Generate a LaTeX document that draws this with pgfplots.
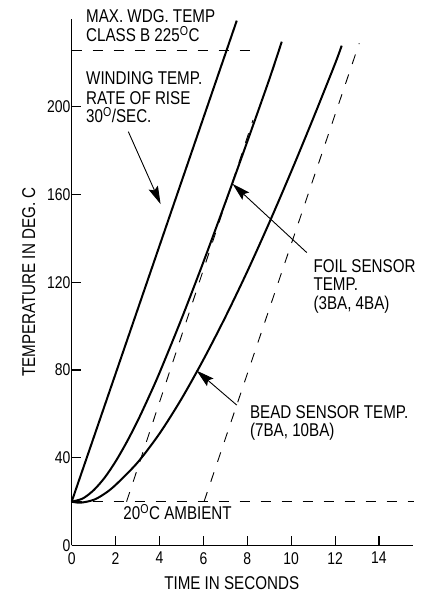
\documentclass[border=0pt]{standalone}
\usepackage{pgfplots}
\pgfplotsset{compat=1.18}
\usetikzlibrary{arrows.meta}
\usepackage{fontspec}
\setmainfont{Liberation Sans}[FakeStretch=0.82]

\newcommand{\dg}{\textsuperscript{O}}

\begin{document}
\begin{tikzpicture}
\useasboundingbox (0,0) rectangle (422pt,594pt);
\fontsize{18.5}{19}\selectfont
\begin{axis}[
  at={(71.7pt,48.5pt)}, anchor=origin,
  scale only axis, width=341.3pt, height=526.6pt,
  xmin=0, xmax=15.55, ymin=0, ymax=240,
  axis lines=left, axis line style={-, line width=1.2pt},
  clip=false,
  xtick={0,2,...,14}, ytick={0,40,...,200},
  tick align=inside, major tick length=9pt,
  tick style={line width=1.1pt, black},
  /pgf/number format/assume math mode=true,
  ticklabel style={font=\fontsize{17}{17}\selectfont},
  xticklabel style={inner sep=1pt, yshift=-5.5pt},
  yticklabel style={inner sep=1pt},
  xlabel={TIME IN SECONDS},
  xlabel style={at={(rel axis cs:0.4688,-0.0840)}, anchor=base, inner sep=0pt},
  ylabel={TEMPERATURE IN DEG. C},
  ylabel style={at={(rel axis cs:-0.1075,0.5)}, anchor=base, inner sep=0pt},
  every axis plot/.append style={black},
]
% dashed reference lines
\addplot[line width=0.9pt, dash pattern=on 10pt off 11pt] coordinates {(0,225.4) (8.12,225.4)};
\addplot[line width=0.9pt, dash pattern=on 10pt off 11pt] coordinates {(0,20) (15.6,20)};
\addplot[line width=0.9pt, dash pattern=on 10pt off 11pt] coordinates {(2.5,20) (8.26,193.9)};
\addplot[line width=0.9pt, dash pattern=on 10pt off 11pt] coordinates {(6.03,20) (13.1,228.9)};

% winding temperature
\addplot[line width=2pt] coordinates {(0,20) (7.52,239.2)};

% foil sensor
\addplot[line width=2pt, smooth] coordinates {
  (0,20) (0.5,21.4) (1,25.2) (1.5,30.9) (2,38.3) (2.5,47.0) (3,56.7)
  (3.5,67.4) (4,78.7) (5,103.2) (6,129.2) (7,156.3) (8,184.1) (9,212.4) (9.57,229.6)
};

% bead sensor
\addplot[line width=2pt, smooth] coordinates {
  (0,20) (0.4,19.5) (1,20.8) (1.5,23.6) (2,27.6) (3,37.8) (4,51.0) (5,66.8)
  (6,84.7) (7,104.1) (8,124.9) (9,147.1) (10,170.4) (11,194.6) (12,219.6) (12.3,227.8)
};

% annotations
\begin{scope}[every node/.style={inner sep=0pt, anchor=base west}]
\node at (axis cs:0.651,238.3) {MAX. WDG. TEMP};
\node at (axis cs:0.651,229.6) {CLASS B 225\dg C};
\node at (axis cs:0.651,209.9) {WINDING TEMP.};
\node at (axis cs:0.651,201.2) {RATE OF RISE};
\node at (axis cs:0.651,192.7) {30\dg/SEC.};
\node at (axis cs:11.01,124.5) {FOIL SENSOR};
\node at (axis cs:11.01,116.1) {TEMP.};
\node at (axis cs:11.01,107.7) {(3BA, 4BA)};
\node at (axis cs:8.12,58.0) {BEAD SENSOR TEMP.};
\node at (axis cs:8.12,49.6) {(7BA, 10BA)};
\node at (axis cs:2.35,11.9) {20\dg C AMBIENT};
\end{scope}

\draw[line width=0.9pt, -{Stealth[length=18pt, width=10pt, inset=3pt]}]
  (axis cs:2.58,188.6) -- (axis cs:4.05,155.6);
\draw[line width=0.9pt, -{Stealth[length=18pt, width=10pt, inset=3pt]}]
  (axis cs:10.71,133.5) -- (axis cs:7.33,164.8);
\draw[line width=0.9pt, -{Stealth[length=18pt, width=10pt, inset=3pt]}]
  (axis cs:7.52,64.0) -- (axis cs:5.69,79.7);
\end{axis}
\end{tikzpicture}
\end{document}
